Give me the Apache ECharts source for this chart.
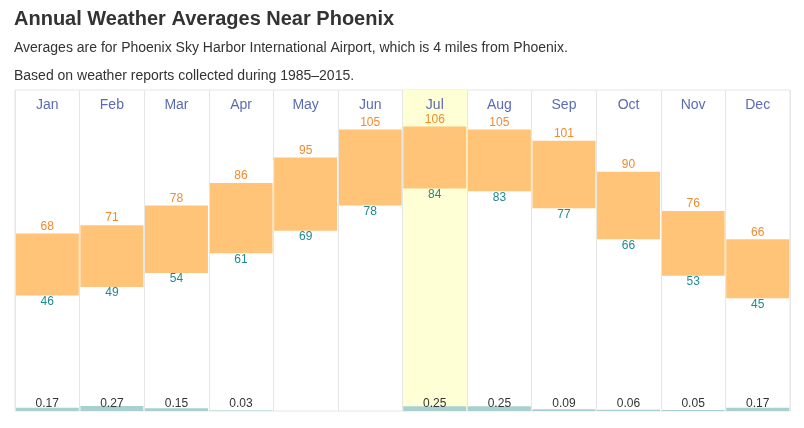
<!DOCTYPE html>
<html>
<head>
<meta charset="utf-8">
<script src="https://cdn.jsdelivr.net/npm/echarts@6/dist/echarts.min.js"></script>
<style>
html,body{margin:0;padding:0;background:#fff;}
#chart{width:804px;height:428px;}
</style>
</head>
<body>
<div id="chart"></div>
<script>
const months = ['Jan','Feb','Mar','Apr','May','Jun','Jul','Aug','Sep','Oct','Nov','Dec'];
const highs = [68,71,78,86,95,105,106,105,101,90,76,66];
const lows = [46,49,54,61,69,78,84,83,77,66,53,45];
const precip = [0.17,0.27,0.15,0.03,null,null,0.25,0.25,0.09,0.06,0.05,0.17];
const highlightMonth = 'Jul';

const chart = echarts.init(document.getElementById('chart'), null, {renderer:'canvas'});
const FONT = 'Liberation Sans, Arial, sans-serif';
const gridPos = {left:15, right:14, top:90, bottom:17};

const option = {
  animation:false,
  backgroundColor:'#fff',
  title:[
    {text:'Annual Weather Averages Near Phoenix', left:9, top:4,
     textStyle:{fontFamily:FONT, fontSize:20, fontWeight:'bold', color:'#333'}},
    {text:'Averages are for Phoenix Sky Harbor International Airport, which is 4 miles from Phoenix.', left:9, top:36,
     textStyle:{fontFamily:FONT, fontSize:14, fontWeight:'normal', color:'#333'}},
    {text:'Based on weather reports collected during 1985\u20132015.', left:9, top:64,
     textStyle:{fontFamily:FONT, fontSize:14, fontWeight:'normal', color:'#333'}}
  ],
  grid:[
    Object.assign({show:true, borderColor:'#e6e6e6', borderWidth:1, backgroundColor:'transparent'}, gridPos),
    Object.assign({}, gridPos),
    Object.assign({}, gridPos)
  ],
  xAxis:[
    {type:'category', data:months, gridIndex:0, position:'top', z:10,
     axisLine:{show:false}, axisTick:{show:false},
     axisLabel:{inside:true, margin:8, color:'#5b6bb6', fontSize:14, fontFamily:FONT},
     splitLine:{show:true, interval:0, lineStyle:{color:'#e6e6e6', width:1}}},
    {type:'category', data:months, gridIndex:1, show:false},
    {type:'category', data:months, gridIndex:2, show:false}
  ],
  yAxis:[
    {type:'value', gridIndex:0, min:0, max:1, show:false},
    {type:'value', gridIndex:1, min:5, max:119, show:false},
    {type:'value', gridIndex:2, min:0, max:17, show:false}
  ],
  series:[
    {type:'bar', xAxisIndex:0, yAxisIndex:0, silent:true, barWidth:'100%',
     itemStyle:{color:'#ffffd5'},
     data:months.map(m => m === highlightMonth ? 1 : null)},
    {type:'bar', name:'low', xAxisIndex:1, yAxisIndex:1, stack:'t', barWidth:63,
     itemStyle:{color:'transparent'},
     label:{show:true, position:'insideTop', distance:0, color:'#1f8a93', fontSize:12, fontFamily:FONT,
            formatter:p => lows[p.dataIndex]},
     data:lows},
    {type:'bar', name:'range', xAxisIndex:1, yAxisIndex:1, stack:'t', barWidth:63,
     itemStyle:{color:'#ffc477'},
     label:{show:true, position:'top', distance:1, color:'#f28a2e', fontSize:12, fontFamily:FONT,
            formatter:p => highs[p.dataIndex]},
     data:highs.map((h,i) => h - lows[i])},
    {type:'bar', name:'precip', xAxisIndex:2, yAxisIndex:2, barWidth:63,
     itemStyle:{color:'#a8d0d0'},
     label:{show:true, position:'insideBottom', distance:1, color:'#333', fontSize:12, fontFamily:FONT,
            formatter:p => p.value.toFixed(2)},
     data:precip}
  ]
};
chart.setOption(option);
</script>
</body>
</html>
